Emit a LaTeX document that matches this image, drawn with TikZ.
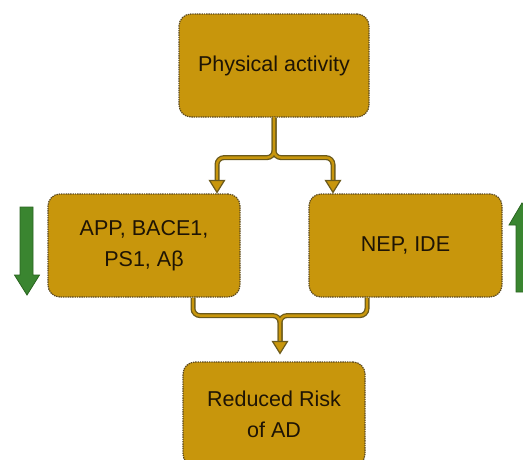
\documentclass[tikz,border=0pt]{standalone}
\usepackage{fontspec}
\setmainfont{Liberation Sans}
\usetikzlibrary{calc}
\definecolor{boxfill}{HTML}{C8960C}
\definecolor{boxline}{HTML}{5A4820}
\definecolor{txt}{HTML}{1E1405}
\definecolor{connout}{HTML}{6B5A1C}
\definecolor{gfill}{HTML}{3A8530}
\definecolor{gline}{HTML}{2A6420}
\begin{document}
\begin{tikzpicture}[x=1pt,y=-1pt,
  box/.style={draw=boxline, fill=boxfill, line width=1.2pt, dash pattern=on 1.4pt off 0.9pt,
    rounded corners=12pt, minimum height=103pt, align=center, text=txt,
    font=\fontsize{21.5}{31}\selectfont, inner sep=0pt},
  connouter/.style={draw=connout, line width=5pt, rounded corners=7pt},
  conninner/.style={draw=boxfill, line width=2.4pt, rounded corners=7pt},
  tip/.style={draw=connout, fill=boxfill, line width=1.2pt, line join=miter},
  garrow/.style={draw=gline, fill=gfill, line width=0.8pt}
]
\useasboundingbox (0,0) rectangle (523,459);

\node[box, minimum width=190pt] (top) at (274,65.5) {Physical activity};
\node[box, minimum width=192pt] (left) at (144,245.5) {APP, BACE1,\\PS1, Aβ};
\node[box, minimum width=193pt] (right) at (405.5,245.5) {NEP, IDE};
\node[box, minimum width=182pt, minimum height=104pt] (bottom) at (274,414) {Reduced Risk\\of AD};

% coordinates for connector ends
\coordinate (la) at ($(left.north)+(73,-12)$);
\coordinate (ra) at ($(right.north)+(-72.5,-12)$);
\coordinate (lb) at ($(left.south)+(49,0)$);
\coordinate (rb) at ($(right.south)+(-38.5,0)$);
\coordinate (ba) at ($(bottom.north)+(6,-19)$);

% forks
\foreach \s in {connouter,conninner}{
  \draw[\s] (top.south) -- ($(top.south)+(0,40)$) -- ($(la|-top.south)+(0,40)$) -- (la);
  \draw[\s] (top.south) -- ($(top.south)+(0,40)$) -- ($(ra|-top.south)+(0,40)$) -- (ra);
  \draw[\s] (lb) -- ($(lb)+(0,18)$) -- ($(ba|-lb)+(0,18)$) -- (ba);
  \draw[\s] (rb) -- ($(rb)+(0,18)$) -- ($(ba|-lb)+(0,18)$) -- (ba);
}
\draw[conninner, rounded corners=0pt] ($(top.south)+(0,-1)$) -- ($(top.south)+(0,4)$);

% arrow heads
\draw[tip] ($(la)+(-7.5,-1)$) -- ($(la)+(7.5,-1)$) -- ($(la)+(0,11)$) -- cycle;
\draw[tip] ($(ra)+(-7.5,-1)$) -- ($(ra)+(7.5,-1)$) -- ($(ra)+(0,11)$) -- cycle;
\draw[tip] ($(ba)+(-7.5,-1)$) -- ($(ba)+(7.5,-1)$) -- ($(ba)+(0,11)$) -- cycle;

% green arrows
\draw[garrow] (20,207) -- (33,207) -- (33,275) -- (39.5,275) -- (27,295) -- (14.5,275) -- (20,275) -- cycle;
\draw[garrow] (516,292) -- (516,225) -- (509,225) -- (522,203) -- (535,225) -- (528,225) -- (528,292) -- cycle;
\end{tikzpicture}
\end{document}
